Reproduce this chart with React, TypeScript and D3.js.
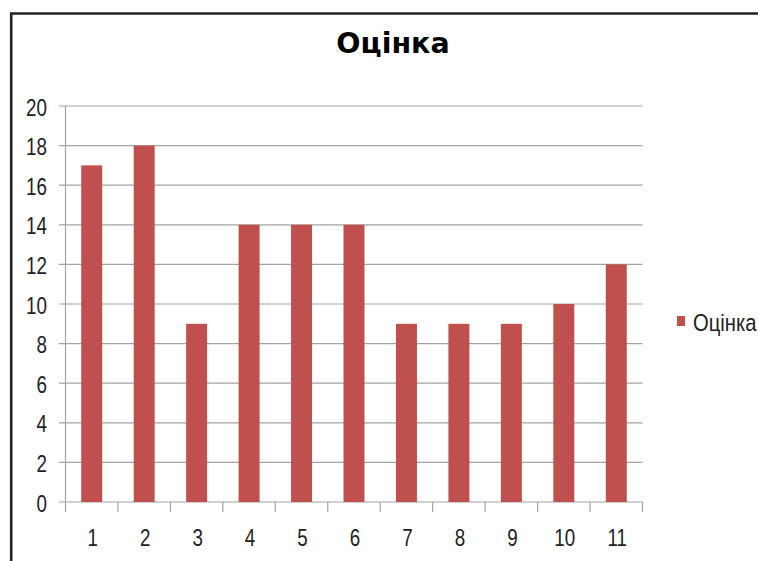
import React from 'react';
import * as d3 from 'd3';

// chart values
const categories = ['1', '2', '3', '4', '5', '6', '7', '8', '9', '10', '11'];
const scores = [17, 18, 9, 14, 14, 14, 9, 9, 9, 10, 12];
const yTicks = [0, 2, 4, 6, 8, 10, 12, 14, 16, 18, 20];
const seriesName = 'Оцінка';
const title = 'Оцінка';

// narrow label text: Liberation Sans squeezed horizontally
const Label: React.FC<{ x: number; y: number; anchor?: string; squeeze?: number; children: React.ReactNode }> = ({ x, y, anchor = 'start', squeeze = 0.8, children }) => (
  <g transform={`translate(${x},${y}) scale(${squeeze},1)`}>
    <text textAnchor={anchor} fontFamily="'Liberation Sans', Arial, sans-serif" fontSize={23.5} fill="#222">
      {children}
    </text>
  </g>
);

const App: React.FC = () => {
  const width = 758;
  const height = 561;
  const left = 65.5;
  const right = 642.5;
  const top = 106;
  const bottom = 502;

  const barColor = '#C0504D';
  const gridColor = '#a3a3a3';

  const x = d3.scaleBand<string>()
    .domain(categories)
    .range([left, right])
    .paddingInner(0.6)
    .paddingOuter(0.3);

  // plain bands for tick positions at category borders
  const xCell = d3.scaleBand<string>().domain(categories).range([left, right]);

  const y = d3.scaleLinear().domain([0, 20]).range([bottom, top]);

  const boundaries = [...categories.map(c => xCell(c) as number), right];

  return (
    <svg
      width={width}
      height={height}
      viewBox={`0 0 ${width} ${height}`}
      style={{ position: 'absolute', left: 0, top: 0, background: '#fff' }}
    >
      {/* frame */}
      <line x1={11.2} y1={13.5} x2={11.2} y2={height} stroke="#222" strokeWidth={2.6} />
      <line x1={10} y1={13.5} x2={width} y2={13.5} stroke="#222" strokeWidth={2.6} />

      <text
        x={393}
        y={53}
        textAnchor="middle"
        fontFamily="'DejaVu Sans', sans-serif"
        fontWeight="bold"
        fontSize={28.5}
        fill="#000"
      >
        {title}
      </text>

      {/* gridlines and y axis */}
      {yTicks.map(t => (
        <g key={t}>
          <line x1={59} x2={right} y1={y(t)} y2={y(t)} stroke={gridColor} strokeWidth={1.2} />
          <Label x={47} y={y(t) + 9.5} anchor="end">{t}</Label>
        </g>
      ))}
      <line x1={left} x2={left} y1={top} y2={bottom} stroke={gridColor} strokeWidth={1.2} />

      {/* bars */}
      {categories.map((c, i) => (
        <rect
          key={c}
          x={x(c)}
          y={y(scores[i])}
          width={x.bandwidth()}
          height={bottom - y(scores[i])}
          fill={barColor}
        />
      ))}

      {/* x axis */}
      {boundaries.map((b, i) => (
        <line key={i} x1={b} x2={b} y1={bottom} y2={bottom + 10} stroke={gridColor} strokeWidth={1.2} />
      ))}
      {categories.map(c => (
        <Label key={c} x={(xCell(c) as number) + xCell.bandwidth() / 2 + 1} y={546} anchor="middle">
          {c}
        </Label>
      ))}

      {/* legend */}
      <rect x={677} y={316} width={8} height={10} fill={barColor} />
      <Label x={693} y={331} squeeze={0.86}>{seriesName}</Label>
    </svg>
  );
};

export default App;
